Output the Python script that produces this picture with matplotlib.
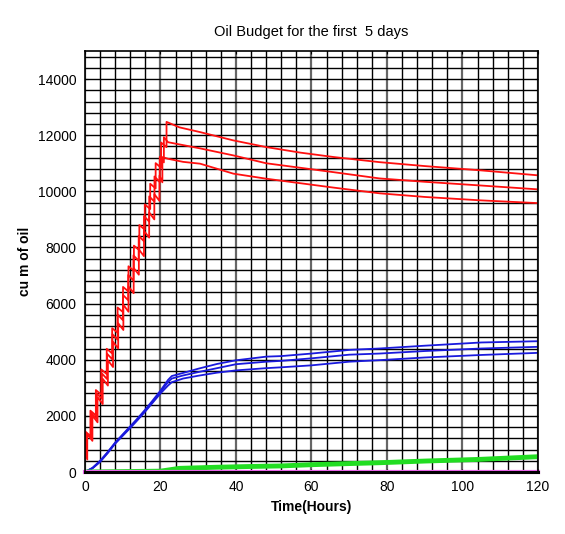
import numpy as np
import matplotlib
matplotlib.use("Agg")
import matplotlib.pyplot as plt
from matplotlib.ticker import MultipleLocator

plt.rcParams['font.family'] = ['Liberation Sans', 'DejaVu Sans']

# red: released oil, staircase rise then slow decay (three runs)
red_top_steps_t = [0, 1.44, 2.88, 4.32, 5.76, 7.2, 8.64, 10.08, 11.52, 12.96, 14.4, 15.84, 17.28, 18.72, 20.16, 21.6]
red_top_lo = [550, 1285, 2020, 2755, 3490, 4225, 4960, 5695, 6430, 7165, 7900, 8635, 9370, 10105, 10840, 11575]
red_top_hi = [1450, 2185, 2920, 3655, 4390, 5125, 5860, 6595, 7330, 8065, 8800, 9535, 10270, 11005, 11740, 12475]
red_top_decay_t = [21.6, 25, 30.5, 39.3, 48, 57, 66, 78, 90, 104.6, 120]
red_top_decay = [12475, 12280, 12110, 11815, 11577, 11380, 11220, 11040, 10900, 10750, 10570]

red_mid_steps_t = [0.3, 1.69, 3.09, 4.48, 5.87, 7.27, 8.66, 10.05, 11.45, 12.84, 14.23, 15.63, 17.02, 18.41, 19.81, 20.9]
red_mid_lo = [500, 1200, 1900, 2610, 3310, 4010, 4710, 5410, 6120, 6820, 7520, 8220, 8920, 9630, 10330, 11030]
red_mid_hi = [1400, 2100, 2800, 3510, 4210, 4910, 5610, 6310, 7020, 7720, 8420, 9120, 9820, 10530, 11230, 11930]
red_mid_decay_t = [20.9, 22, 30.5, 39.3, 48, 57, 66, 78, 90, 104.6, 120]
red_mid_decay = [11930, 11750, 11530, 11280, 11000, 10840, 10680, 10460, 10340, 10210, 10070]

red_low_steps_t = [0.6, 1.97, 3.33, 4.7, 6.07, 7.43, 8.8, 10.17, 11.53, 12.9, 14.27, 15.63, 17.0, 18.37, 19.73, 20.5]
red_low_lo = [450, 1110, 1770, 2420, 3080, 3740, 4400, 5060, 5710, 6370, 7030, 7690, 8350, 9000, 9660, 10320]
red_low_hi = [1350, 2010, 2670, 3320, 3980, 4640, 5300, 5960, 6610, 7270, 7930, 8590, 9250, 9900, 10560, 11220]
red_low_decay_t = [20.5, 22, 26, 30.5, 39.3, 48, 57, 66, 78, 90, 104.6, 120]
red_low_decay = [11220, 11160, 11050, 10985, 10630, 10450, 10290, 10130, 9930, 9800, 9680, 9580]

# blue: evaporated oil (three runs)
blue_t = [0, 2, 4, 6, 8, 10, 12, 14, 16, 18, 20, 22, 23, 26, 30, 35, 40, 48, 52, 60, 70, 78, 90, 105, 120]
blue_low = [0, 130, 360, 670, 1010, 1290, 1570, 1860, 2160, 2480, 2800, 3080, 3200, 3330, 3430, 3540, 3620, 3700, 3730, 3800, 3930, 3985, 4080, 4170, 4245]
blue_mid = [0, 140, 380, 690, 1030, 1320, 1600, 1890, 2200, 2520, 2860, 3200, 3330, 3440, 3560, 3700, 3840, 3930, 3960, 4050, 4180, 4220, 4310, 4400, 4460]
blue_high = [0, 150, 400, 710, 1050, 1340, 1630, 1920, 2230, 2560, 2900, 3280, 3420, 3530, 3680, 3850, 3980, 4110, 4130, 4220, 4350, 4400, 4500, 4615, 4660]

# green: slowly growing component
green_t = [0, 20, 25, 35, 45, 51.7, 60, 70, 78, 90, 104.6, 120]
green_v = [0, 30, 130, 170, 200, 215, 260, 300, 330, 390, 450, 545]

# near-zero components
flat_t = [0, 120]
magenta_v = [0, 0]
black_v = [0, 0]


def staircase(step_t, lo, hi, decay_t, decay):
    xs, ys = [], []
    for t, a, b in zip(step_t, lo, hi):
        xs += [t, t]
        ys += [a, b]
    xs += decay_t[1:]
    ys += decay[1:]
    return xs, ys


fig = plt.figure(figsize=(5.65, 5.34), dpi=100)
ax = fig.add_axes([0.1504, 0.1161, 0.8018, 0.7884])

ax.set_xlim(0, 120)
ax.set_ylim(0, 15000)
ax.xaxis.set_major_locator(MultipleLocator(20))
ax.xaxis.set_minor_locator(MultipleLocator(4))
ax.yaxis.set_major_locator(MultipleLocator(2000))
ax.yaxis.set_minor_locator(MultipleLocator(400))
ax.grid(which='minor', color='black', lw=1.0)
ax.grid(which='major', axis='x', color='#666666', lw=1.6)
ax.grid(which='major', axis='y', color='black', lw=1.0)
ax.set_axisbelow(True)

for st, lo, hi, dt, dv in [(red_top_steps_t, red_top_lo, red_top_hi, red_top_decay_t, red_top_decay),
                           (red_mid_steps_t, red_mid_lo, red_mid_hi, red_mid_decay_t, red_mid_decay),
                           (red_low_steps_t, red_low_lo, red_low_hi, red_low_decay_t, red_low_decay)]:
    x, y = staircase(st, lo, hi, dt, dv)
    ax.plot(x, y, color='#ff1010', lw=1.3)

for bv in [blue_low, blue_mid, blue_high]:
    ax.plot(blue_t, bv, color='#1a1add', lw=1.3)

ax.plot(green_t, green_v, color='#22dd22', lw=3.5)
ax.plot(flat_t, magenta_v, color='#ee66ee', lw=3, clip_on=False)
ax.plot(flat_t, black_v, color='black', lw=2.2, clip_on=False)

ax.tick_params(which='both', direction='in', length=2, top=True, right=True, labelsize=10, pad=6)
ax.tick_params(which='minor', length=0)
for s in ax.spines.values():
    s.set_linewidth(1.2)

ax.set_title('Oil Budget for the first  5 days', fontsize=10.5, pad=11)
ax.set_xlabel('Time(Hours)', fontsize=10, fontweight='bold', labelpad=4)
ax.set_ylabel('cu m of oil', fontsize=10, fontweight='bold', labelpad=4)

fig.savefig('out.png', dpi=100)
